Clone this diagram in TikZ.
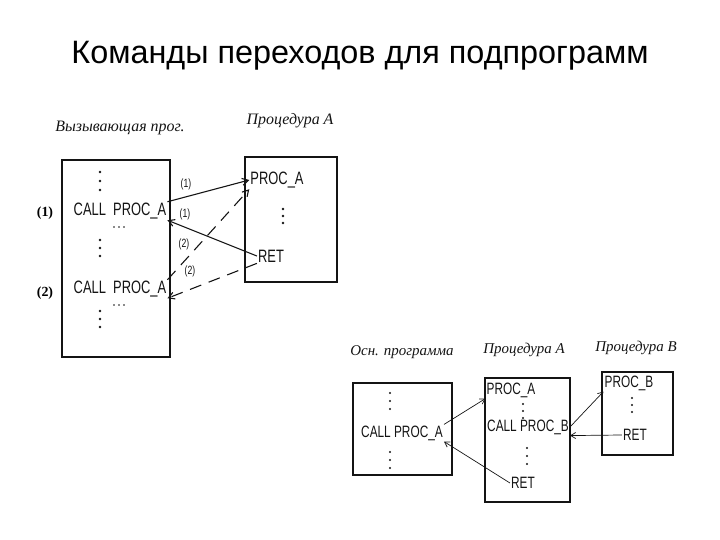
\documentclass[tikz,border=0pt]{standalone}
\usepackage{fontspec}
\setmainfont{Liberation Serif}
\newfontfamily\titlefont{Liberation Sans}
\newfontfamily\codefont[FakeStretch=0.72]{Liberation Sans}
\usepackage{tikz}
\usetikzlibrary{arrows, arrows.meta, positioning, calc}
\definecolor{inkblack}{RGB}{20, 20, 20}

\tikzset{
    hand/.style={inkblack, font=\itshape\fontsize{16}{18}\selectfont},
    handsm/.style={inkblack, font=\itshape\fontsize{15}{17}\selectfont},
    code/.style={inkblack, inner sep=1bp, font=\codefont\fontsize{18}{20}\selectfont},
    codesm/.style={inkblack, inner sep=1bp, font=\codefont\fontsize{16.5}{18}\selectfont},
    stepnum/.style={inkblack, inner sep=1bp, font=\codefont\fontsize{12}{14}\selectfont},
    progbox/.style={inkblack, line width=1.3pt},
    jump/.style={-{Straight Barb[length=6pt, width=7pt]}, inkblack, line width=1.1pt},
    jumpsm/.style={-{Straight Barb[length=5pt, width=6pt]}, inkblack, line width=0.7pt}
}

\begin{document}
\begin{tikzpicture}[x=1bp, y=-1bp]
    \useasboundingbox (0,0) rectangle (720,540);

    % TITLE
    \node[font=\titlefont\fontsize{32.5}{36}\selectfont] (title) at (360,56)
        {Команды переходов для подпрограмм};

    % PART 1: one procedure, two calls
    \node[hand] (callerlbl) at (120,128) {Вызывающая прог.};
    \node[hand] (procalbl) at (290,121) {Процедура A};
    \draw[progbox] (62,160) rectangle (170,357);
    \draw[progbox] (245,157) rectangle (337,282);
    \node[font=\bfseries\fontsize{14}{16}\selectfont] (first) at (45,213) {(1)};
    \node[font=\bfseries\fontsize{14}{16}\selectfont] (second) at (45,293) {(2)};
    \node[code] (call1) at (120,211) {CALL\ \ PROC\_A};
    \node[code] (call2) at (120,289) {CALL\ \ PROC\_A};
    \node[code] (proca) at (277,180) {PROC\_A};
    \node[code] (reta) at (271,256) {RET};
    \foreach \y in {172,181,190, 240,248,256, 311,319,327}
        \fill[inkblack] (100,\y) circle (1.3pt);
    \foreach \y in {209,216,223}
        \fill[inkblack] (283,\y) circle (1.3pt);
    \foreach \x in {114,119,124}
        \fill[inkblack] (\x,227) circle (1pt)
                        (\x,305) circle (1pt);
    \draw[jump] (call1.north east) -- (proca.west);
    \draw[jump] (reta.west) -- (call1.south east);
    \draw[jump, dash pattern=on 12pt off 8pt] (call2.north east) -- (proca.south west);
    \draw[jump, dash pattern=on 12pt off 8pt] (reta.south west) -- (call2.south east);
    \node[stepnum] (m1a) at (186,184) {(1)};
    \node[stepnum] (m1b) at (185,214) {(1)};
    \node[stepnum] (m2a) at (184,244) {(2)};
    \node[stepnum] (m2b) at (190,271) {(2)};

    % PART 2: nested calls
    \node[handsm] (mainlbl) at (402,352) {Осн. программа};
    \node[handsm] (procalbl2) at (524,350) {Процедура A};
    \node[handsm] (procblbl) at (636,348) {Процедура B};
    \draw[progbox] (353,383) rectangle (452,475);
    \draw[progbox] (485,378) rectangle (570,502);
    \draw[progbox] (602,372) rectangle (673,455);
    \node[codesm] (calla) at (402,433) {CALL\ PROC\_A};
    \node[codesm] (pa2) at (511,390) {PROC\_A};
    \node[codesm] (callb) at (528,427) {CALL\ PROC\_B};
    \node[codesm] (reta2) at (523,483) {RET};
    \node[codesm] (pb) at (629,383) {PROC\_B};
    \node[codesm] (retb) at (635,435) {RET};
    \foreach \y in {393,401,409, 452,460,468}
        \fill[inkblack] (390,\y) circle (1.2pt);
    \foreach \y in {404,411,418}
        \fill[inkblack] (523,\y) circle (1.2pt);
    \foreach \y in {448,456,464}
        \fill[inkblack] (527,\y) circle (1.2pt);
    \foreach \y in {398,405,412}
        \fill[inkblack] (632,\y) circle (1.2pt);
    \draw[jumpsm] (calla.north east) -- (pa2.south west);
    \draw[jumpsm] (reta2.west) -- (calla.south east);
    \draw[jumpsm] (callb.east) -- (pb.south west);
    \draw[jumpsm] (retb.west) -- (callb.south east);

\end{tikzpicture}
\end{document}
